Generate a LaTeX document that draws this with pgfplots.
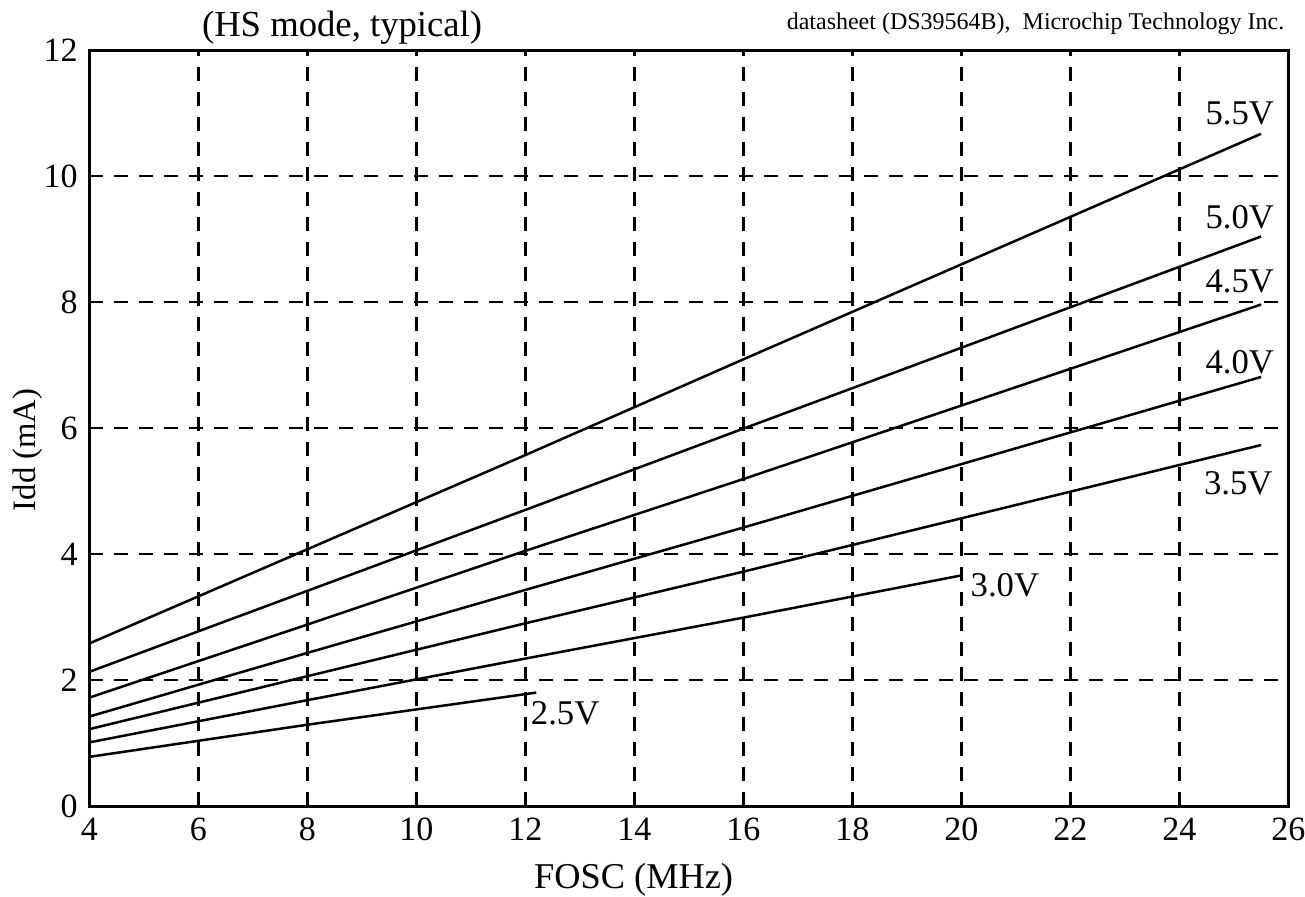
\documentclass[border=0pt]{standalone}
\usepackage{fontspec}
\setmainfont{Liberation Serif}
\usepackage{pgfplots}
\pgfplotsset{compat=1.18}

\begin{document}
\begin{tikzpicture}
\begin{axis}[
    name=ax,
    scale only axis,
    width=359.7pt, height=226.8pt,
    xmin=4, xmax=26, ymin=0, ymax=12,
    xtick={4,6,...,26}, ytick={0,2,...,12},
    major tick length=0pt,
    /pgf/number format/assume math mode=true,
    tick label style={font=\fontsize{10.2}{12}\selectfont},
    axis line style={line width=0.9pt},
    grid=major,
    grid style={black, line width=0.75pt, dash pattern=on 4.2pt off 3.3pt},
    xlabel={FOSC (MHz)},
    ylabel={Idd (mA)},
    xlabel style={font=\fontsize{10.9}{13}\selectfont, at={(axis description cs:0.454,-0.0979)}, anchor=center},
    ylabel style={font=\fontsize{9.8}{12}\selectfont, at={(axis description cs:-0.0511,0.471)}, anchor=center, rotate=0},
    clip=false,
    vline/.style={black, solid, line width=0.75pt, mark=none},
]
% 5.5V
\addplot[vline] coordinates {(4,2.58) (12,5.57) (16,7.09) (25.5,10.67)};
% 5.0V
\addplot[vline] coordinates {(4,2.13) (12,4.70) (16,5.99) (25.5,9.04)};
% 4.5V
\addplot[vline] coordinates {(4,1.72) (8,2.88) (12,4.05) (16,5.19) (25.5,7.96)};
% 4.0V
\addplot[vline] coordinates {(4,1.42) (8,2.43) (12,3.43) (16,4.42) (25.5,6.81)};
% 3.5V
\addplot[vline] coordinates {(4,1.22) (8,2.06) (12,2.90) (16,3.72) (25.5,5.73)};
% 3.0V
\addplot[vline] coordinates {(4,1.01) (8,1.68) (12,2.34) (16,2.99) (20,3.66)};
% 2.5V
\addplot[vline] coordinates {(4,0.78) (8,1.29) (12.2,1.80)};

\begin{scope}[every node/.style={font=\fontsize{10.4}{12}\selectfont, inner sep=0pt}]
\node at (axis cs:25.11,11.00) {5.5V};
\node at (axis cs:25.11,9.35) {5.0V};
\node at (axis cs:25.11,8.32) {4.5V};
\node at (axis cs:25.11,7.05) {4.0V};
\node at (axis cs:25.08,5.12) {3.5V};
\node at (axis cs:20.80,3.51) {3.0V};
\node at (axis cs:12.73,1.47) {2.5V};
\end{scope}

\node[font=\fontsize{11}{13}\selectfont, inner sep=0pt] at (axis description cs:0.2108,1.0298) {(HS mode, typical)};
\node[font=\fontsize{7.2}{9}\selectfont, inner sep=0pt, anchor=east] at (axis description cs:0.9972,1.0344) {datasheet (DS39564B),\ \ Microchip Technology Inc.};

\coordinate (sw) at (rel axis cs:0,0);
\end{axis}
\pgfresetboundingbox
\path[use as bounding box] ([shift={(-26.8pt,-27pt)}]sw) rectangle ([shift={(364.7pt,241.8pt)}]sw);
\end{tikzpicture}
\end{document}
